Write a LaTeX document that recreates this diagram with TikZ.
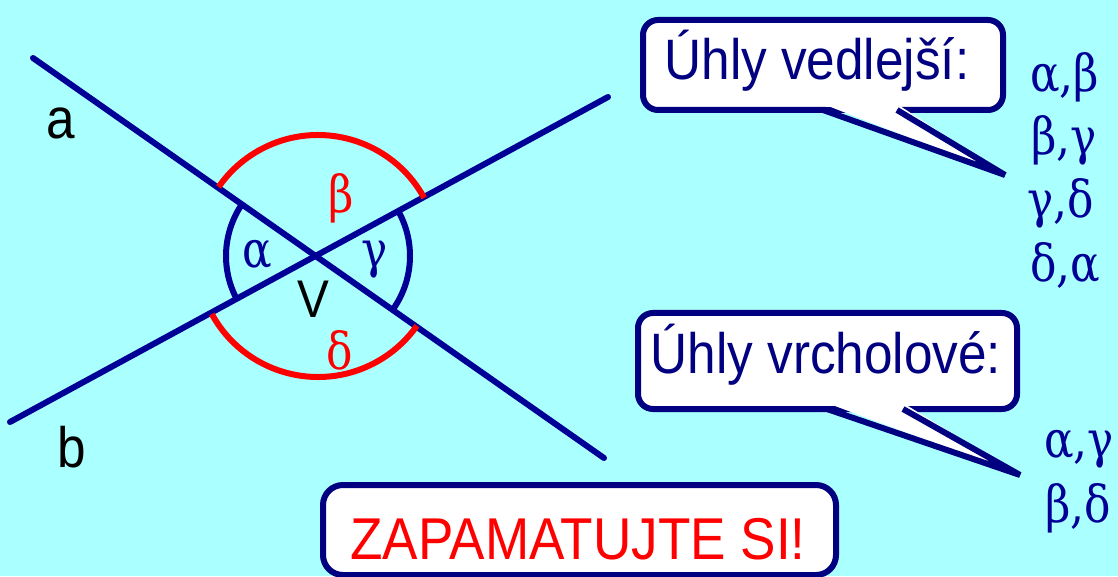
\documentclass[tikz,border=0pt]{standalone}
\usepackage{fontspec}
\setmainfont[FakeStretch=0.9]{Liberation Sans}
\newfontfamily\grk[FakeStretch=0.86]{DejaVu Serif}
\definecolor{bg}{RGB}{170,255,255}
\definecolor{navy}{RGB}{0,0,150}
\definecolor{txtnavy}{RGB}{0,0,128}
\definecolor{myred}{RGB}{255,0,0}
\begin{document}
\begin{tikzpicture}[x=1pt,y=1pt,
  ray/.style={draw=navy, line width=6pt, line cap=round},
  arcblue/.style={draw=navy, line width=6pt},
  arcred/.style={draw=myred, line width=6pt},
  callbox/.style={draw=txtnavy, fill=white, line width=6pt, rounded corners=15pt, inner sep=0pt},
  tail/.style={draw=txtnavy, line width=6pt, line join=miter},
  lbl/.style={inner sep=0pt, font=\fontsize{57}{60}\selectfont},
  grl/.style={inner sep=0pt, text=navy},
  ]
\fill[bg] (0,0) rectangle (1118,576);
\useasboundingbox (0,0) rectangle (1118,576);

% lines
\coordinate (V) at (318,320);
\coordinate (a1) at (33,518);
\coordinate (a2) at (604,118);
\coordinate (b1) at (10,154);
\coordinate (b2) at (608,479);
\draw[ray] (a1) -- (a2);
\draw[ray] (b1) -- (b2);

% arcs
\draw[arcblue] (V) ++(145.2:92) arc[start angle=145.2, end angle=208.7, radius=92];
\draw[arcblue] (V) ++(-35.2:92) arc[start angle=-35.2, end angle=28.7, radius=92];
\draw[arcred] (V) ++(28.7:121) arc[start angle=28.7, end angle=145.2, radius=121];
\draw[arcred] (V) ++(208.7:121) arc[start angle=208.7, end angle=324.8, radius=121];

\newcommand{\gk}[1]{{\grk\fontsize{51}{56}\selectfont #1}}

% labels
\node[lbl] (la) at (61,453) {a};
\node[lbl, anchor=base] (lb) at (72,109) {b};
\node[lbl, anchor=base, font=\fontsize{53}{56}\selectfont] (lV) at (313,258) {V};
\node[grl] (alpha) at (257,321) {\gk{α}};
\node[grl, text=myred, anchor=base] (beta) at (341,363) {\gk{β}};
\node[grl, anchor=base] (gamma) at (375,308) {\gk{γ}};
\node[grl, text=myred, anchor=base] (delta) at (340,207) {\gk{δ}};

% callout 1
\node[callbox, minimum width=360, minimum height=90] (c1) at (823,511) {};
\coordinate (t1l) at (823,466);
\coordinate (t1r) at (897,466);
\coordinate (t1tip) at (1005,401);
\fill[white] (823,472) -- (t1tip) -- (897,472) -- cycle;
\draw[tail] (t1l) -- (t1tip) -- (t1r);
\fill[white] (826,469) rectangle (894,474);
\node[lbl, anchor=base, text=txtnavy] (h1) at (817,496) {Úhly vedlejší:};

% callout 2
\node[callbox, minimum width=379, minimum height=96] (c2) at (827.5,215) {};
\coordinate (t2l) at (827,167);
\coordinate (t2r) at (903,167);
\coordinate (t2tip) at (1020,101);
\fill[white] (827,173) -- (t2tip) -- (903,173) -- cycle;
\draw[tail] (t2l) -- (t2tip) -- (t2r);
\fill[white] (830,170) rectangle (900,175);
\node[lbl, anchor=base, text=txtnavy] (h2) at (826,203) {Úhly vrcholové:};

% remember box
\node[callbox, rounded corners=20pt, minimum width=513, minimum height=90] (c3) at (579.5,46) {};
\node[lbl, anchor=base, text=myred, font=\fontsize{59}{62}\selectfont] (zap) at (578,17) {ZAPAMATUJTE SI!};

% pairs
\node[grl, anchor=base west] (p1) at (1030,484) {\gk{α,β}};
\node[grl, anchor=base west] (p2) at (1031,421) {\gk{β,γ}};
\node[grl, anchor=base west] (p3) at (1027,358) {\gk{γ,δ}};
\node[grl, anchor=base west] (p4) at (1030,294) {\gk{δ,α}};
\node[grl, anchor=base west] (q1) at (1044,119) {\gk{α,γ}};
\node[grl, anchor=base west] (q2) at (1045,54) {\gk{β,δ}};
\end{tikzpicture}
\end{document}
